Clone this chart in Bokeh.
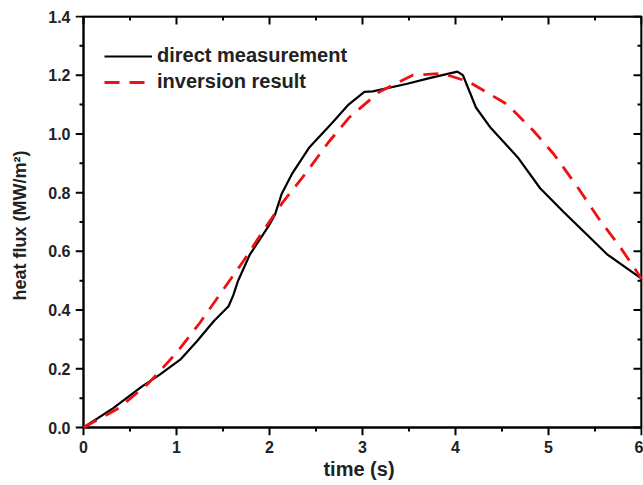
from bokeh.plotting import figure
from bokeh.models import (Range1d, FixedTicker, PrintfTickFormatter, Legend, LegendItem)
from bokeh.embed import file_html
from bokeh.resources import INLINE

time_direct = [0, 0.32, 0.63, 0.82, 1.04, 1.22, 1.40, 1.56, 1.61, 1.66, 1.79, 1.99, 2.06, 2.13,
               2.24, 2.43, 2.68, 2.85, 3.02, 3.11, 3.47, 3.72, 4.02, 4.08, 4.22, 4.38, 4.67,
               4.91, 5.16, 5.42, 5.63, 6.0]
flux_direct = [0, 0.066, 0.14, 0.18, 0.231, 0.294, 0.362, 0.413, 0.45, 0.498, 0.59, 0.686, 0.726,
               0.795, 0.863, 0.955, 1.04, 1.10, 1.143, 1.145, 1.17, 1.19, 1.212, 1.2, 1.09, 1.02,
               0.92, 0.815, 0.735, 0.655, 0.59, 0.507]

time_inv = [0, 0.38, 0.70, 1.0, 1.25, 1.49, 1.72, 1.93, 2.14, 2.38, 2.63, 2.86, 3.18, 3.54,
            3.86, 4.14, 4.56, 4.84, 5.06, 5.31, 5.54, 5.77, 6.0]
flux_inv = [0, 0.066, 0.151, 0.254, 0.356, 0.464, 0.567, 0.669, 0.766, 0.862, 0.97, 1.057,
            1.143, 1.2, 1.206, 1.178, 1.10, 1.01, 0.93, 0.82, 0.712, 0.615, 0.507]

x_major = [0, 1, 2, 3, 4, 5, 6]
x_minor = [0.5, 1.5, 2.5, 3.5, 4.5, 5.5]
y_major = [0.0, 0.2, 0.4, 0.6, 0.8, 1.0, 1.2, 1.4]
y_minor = [0.1, 0.3, 0.5, 0.7, 0.9, 1.1, 1.3]

FONT = "Liberation Sans"

# layout (pixels)
W, H = 643, 485
BL, BR, BT, BB = 75, 1, 15, 50
TICK, MINOR = 8, 4
frame_w = W - BL - BR
frame_h = H - BT - BB
box_w = frame_w - TICK - 1
box_h = frame_h - TICK - 1
x0, x1 = x_major[0], x_major[-1]
y0, y1 = y_major[0], y_major[-1]
xs = (x1 - x0) / box_w
ys = (y1 - y0) / box_h

p = figure(width=W, height=H, output_backend="svg", toolbar_location=None,
           x_range=Range1d(x0 - TICK * xs, x1 + 1 * xs),
           y_range=Range1d(y0 - TICK * ys, y1 + 1 * ys),
           min_border_left=BL, min_border_right=BR, min_border_top=BT, min_border_bottom=BB)
p.grid.visible = False
p.outline_line_color = None

for ax in (p.xaxis[0], p.yaxis[0]):
    ax.axis_line_color = None
    ax.major_tick_line_color = None
    ax.minor_tick_line_color = None
    ax.major_tick_in = 0
    ax.major_tick_out = 0
    ax.minor_tick_in = 0
    ax.minor_tick_out = 0
    ax.major_label_text_font = FONT
    ax.major_label_text_font_style = "bold"
    ax.major_label_text_font_size = "16px"
    ax.major_label_text_color = "#222222"
    ax.axis_label_text_font = FONT
    ax.axis_label_text_font_style = "bold"
    ax.axis_label_text_color = "#222222"
    ax.major_label_standoff = 5

xa = p.xaxis[0]
xa.ticker = FixedTicker(ticks=x_major)
xa.axis_label = "time (s)"
xa.axis_label_standoff = 2
xa.axis_label_text_font_size = "20px"

ya = p.yaxis[0]
ya.ticker = FixedTicker(ticks=y_major)
ya.formatter = PrintfTickFormatter(format="%.1f")
ya.axis_label = "heat flux (MW/m²)"
ya.axis_label_standoff = 15
ya.axis_label_text_font_size = "18px"

# plot box
p.line([x0, x0, x1, x1, x0], [y0, y1, y1, y0, y0], line_color="black", line_width=2.4)

# tick marks as segments: bottom/left outward, top/right inward
def vticks(xt, ylev, length_px):
    n = len(xt)
    p.segment(x0=xt, y0=[ylev] * n, x1=xt, y1=[ylev - length_px * ys] * n,
              line_color="black", line_width=2)

def hticks(yt, xlev, length_px):
    n = len(yt)
    p.segment(x0=[xlev] * n, y0=yt, x1=[xlev - length_px * xs] * n, y1=yt,
              line_color="black", line_width=2)

vticks(x_major, y0, TICK)
vticks(x_minor, y0, MINOR)
vticks(x_major, y1, TICK)
vticks(x_minor, y1, MINOR)
hticks(y_major, x0, TICK)
hticks(y_minor, x0, MINOR)
hticks(y_major, x1, TICK)
hticks(y_minor, x1, MINOR)

r1 = p.line(time_direct, flux_direct, line_color="black", line_width=2.2)
r2 = p.line(time_inv, flux_inv, line_color="#ee1111", line_width=2.8, line_dash="15 10")

legend = Legend(items=[LegendItem(label="direct measurement", renderers=[r1]),
                       LegendItem(label="inversion result", renderers=[r2])],
                location="top_left")
legend.border_line_color = None
legend.background_fill_alpha = 0
legend.label_text_font = FONT
legend.label_text_font_style = "bold"
legend.label_text_font_size = "20px"
legend.label_text_color = "#222222"
legend.glyph_width = 48
legend.glyph_height = 20
legend.label_standoff = 5
legend.spacing = 3
legend.margin = 29
legend.padding = 3
p.add_layout(legend)

open("out.html", "w").write(file_html(p, INLINE))
